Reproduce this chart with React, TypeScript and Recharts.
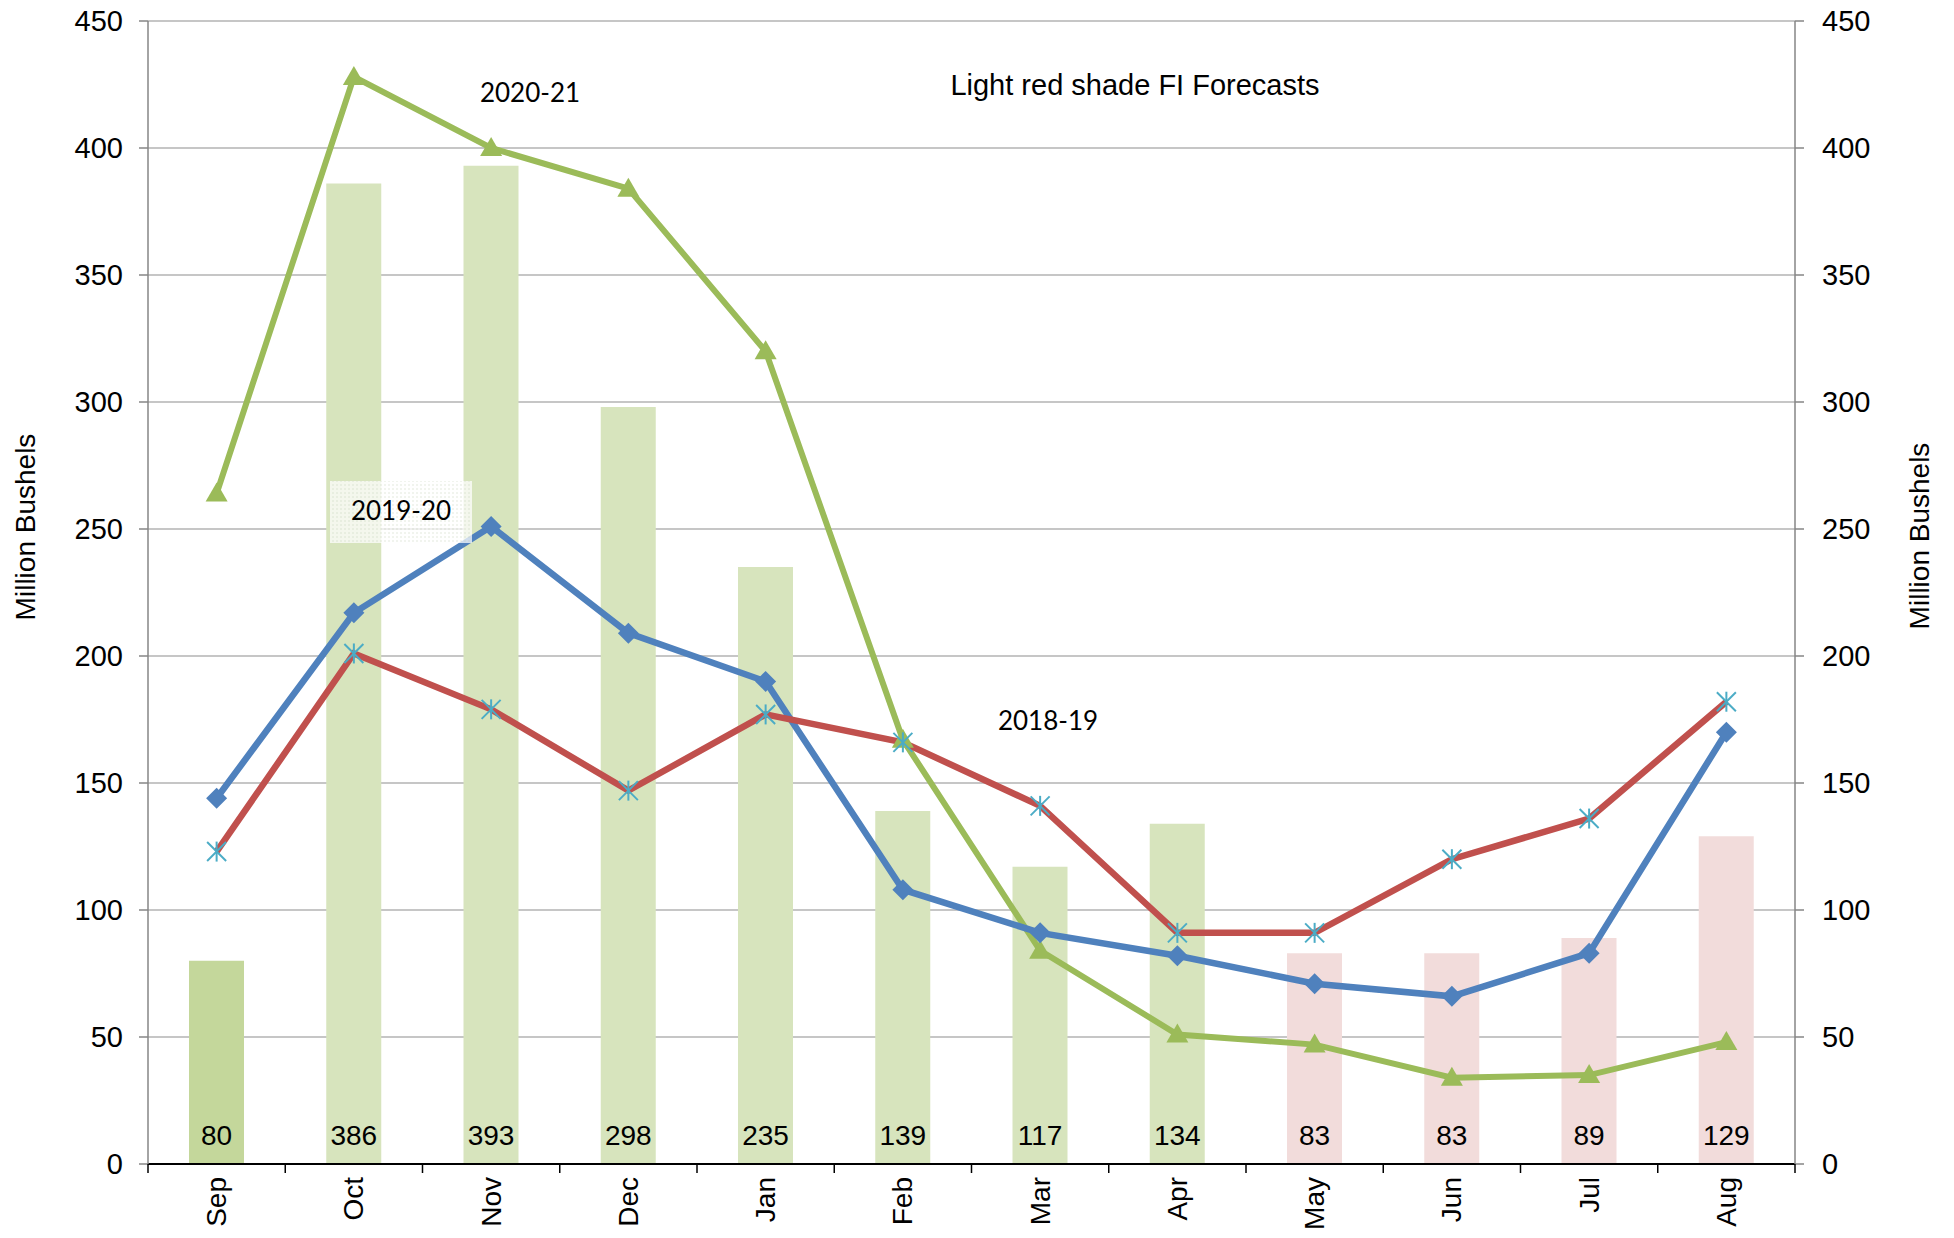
import React from 'react';
import { ComposedChart, Bar, Line, XAxis, YAxis, CartesianGrid, Cell, LabelList } from 'recharts';

const months = ['Sep', 'Oct', 'Nov', 'Dec', 'Jan', 'Feb', 'Mar', 'Apr', 'May', 'Jun', 'Jul', 'Aug'];
// bars: stocks, FI forecasts from May on
const stocks = [80, 386, 393, 298, 235, 139, 117, 134, 83, 83, 89, 129];
const isForecast = [false, false, false, false, false, false, false, false, true, true, true, true];
const y2020_21 = [264, 428, 400, 384, 320, 167, 84, 51, 47, 34, 35, 48];
const y2019_20 = [144, 217, 251, 209, 190, 108, 91, 82, 71, 66, 83, 170];
const y2018_19 = [123, 201, 179, 147, 177, 166, 141, 91, 91, 120, 136, 182];
const yTicks = [0, 50, 100, 150, 200, 250, 300, 350, 400, 450];

const data = months.map((m, i) => ({
  month: m,
  stocks: stocks[i],
  a: y2020_21[i],
  b: y2019_20[i],
  c: y2018_19[i],
}));

const W = 1954;
const H = 1238;
const PLOT_LEFT = 148;
const PLOT_RIGHT = 1795;
const SLOT = (PLOT_RIGHT - PLOT_LEFT) / months.length;
const FONT = '"Liberation Sans", Arial, sans-serif';
const NOTE_FONT = 'Lato, "Open Sans", sans-serif';

const MonthTick = ({ x, y, payload, index }: any) => (
  <g>
    <line x1={x - SLOT / 2} x2={x - SLOT / 2} y1={y - 13} y2={y - 4} stroke="#000" strokeWidth={1.5} />
    {index === months.length - 1 && (
      <line x1={x + SLOT / 2} x2={x + SLOT / 2} y1={y - 13} y2={y - 4} stroke="#000" strokeWidth={1.5} />
    )}
    <text
      x={x}
      y={y}
      transform={`rotate(-90, ${x}, ${y})`}
      textAnchor="end"
      dominantBaseline="central"
      fontSize={28}
      fontFamily={FONT}
      fill="#000"
    >
      {payload.value}
    </text>
  </g>
);

const BarValue = (props: any) => {
  const { x, y, width, height, value } = props;
  return (
    <text
      x={Number(x) + Number(width) / 2}
      y={Number(y) + Number(height) - 29}
      textAnchor="middle"
      dominantBaseline="central"
      fontSize={28}
      fontFamily={FONT}
      fill="#000"
    >
      {value}
    </text>
  );
};

const Triangle = ({ cx, cy }: any) =>
  cx == null ? null : (
    <path d={`M${cx},${cy - 11} L${cx + 11},${cy + 8} L${cx - 11},${cy + 8} Z`} fill="#9bbb59" />
  );

const Diamond = ({ cx, cy }: any) =>
  cx == null ? null : (
    <path d={`M${cx},${cy - 10.5} L${cx + 10.5},${cy} L${cx},${cy + 10.5} L${cx - 10.5},${cy} Z`} fill="#4f81bd" />
  );

const Star = ({ cx, cy }: any) =>
  cx == null ? null : (
    <g stroke="#4bacc6" strokeWidth={2}>
      <line x1={cx} y1={cy - 10} x2={cx} y2={cy + 10} />
      <line x1={cx - 9.5} y1={cy - 9.5} x2={cx + 9.5} y2={cy + 9.5} />
      <line x1={cx + 9.5} y1={cy - 9.5} x2={cx - 9.5} y2={cy + 9.5} />
    </g>
  );

const barColor = (i: number) => {
  if (i === 0) return '#c4d79b';
  return isForecast[i] ? '#f2dcdb' : '#d7e4bd';
};

const App: React.FC = () => {
  return (
    <div style={{ position: 'absolute', left: 0, top: 0, width: W, height: H, background: '#fff' }}>
      <ComposedChart width={W} height={H} data={data} margin={{ top: 21, right: 0, bottom: 0, left: 0 }}>
        <CartesianGrid vertical={false} stroke="#b3b3b3" strokeWidth={1.5} />
        <XAxis
          dataKey="month"
          height={74}
          interval={0}
          tickLine={false}
          tickSize={0}
          tickMargin={13}
          axisLine={{ stroke: '#000', strokeWidth: 2 }}
          tick={<MonthTick />}
        />
        <YAxis
          width={148}
          domain={[0, 450]}
          ticks={yTicks}
          allowDataOverflow
          tickSize={9}
          tickMargin={16}
          axisLine={{ stroke: '#868686', strokeWidth: 1.5 }}
          tickLine={{ stroke: '#868686', strokeWidth: 1.5 }}
          tick={{ fontSize: 29, fill: '#000', fontFamily: FONT }}
        />
        <YAxis
          yAxisId="right"
          orientation="right"
          width={159}
          domain={[0, 450]}
          ticks={yTicks}
          allowDataOverflow
          tickSize={9}
          tickMargin={18}
          axisLine={{ stroke: '#868686', strokeWidth: 1.5 }}
          tickLine={{ stroke: '#868686', strokeWidth: 1.5 }}
          tick={{ fontSize: 29, fill: '#000', fontFamily: FONT }}
        />
        <Bar dataKey="stocks" barSize={55} isAnimationActive={false}>
          {data.map((d, i) => (
            <Cell key={d.month} fill={barColor(i)} />
          ))}
          <LabelList dataKey="stocks" content={BarValue} />
        </Bar>
        <Line
          type="linear"
          dataKey="a"
          stroke="#9bbb59"
          strokeWidth={6}
          dot={(p: any) => <Triangle key={p.index} {...p} />}
          activeDot={false}
          isAnimationActive={false}
        />
        <Line
          type="linear"
          dataKey="b"
          stroke="#4f81bd"
          strokeWidth={6.5}
          dot={(p: any) => <Diamond key={p.index} {...p} />}
          activeDot={false}
          isAnimationActive={false}
        />
        <Line
          yAxisId="right"
          type="linear"
          dataKey="c"
          stroke="#c0504d"
          strokeWidth={6.5}
          dot={(p: any) => <Star key={p.index} {...p} />}
          activeDot={false}
          isAnimationActive={false}
        />
      </ComposedChart>
      <svg
        width={W}
        height={H}
        style={{ position: 'absolute', left: 0, top: 0, pointerEvents: 'none' }}
      >
        <defs>
          <pattern id="dots" width={4} height={4} patternUnits="userSpaceOnUse">
            <rect width={4} height={4} fill="rgba(255,255,255,0.72)" />
            <circle cx={1} cy={1} r={0.7} fill="rgba(190,200,175,0.6)" />
          </pattern>
        </defs>
        <text
          x={25}
          y={527}
          transform="rotate(-90, 25, 527)"
          textAnchor="middle"
          dominantBaseline="central"
          fontSize={28}
          fontFamily={FONT}
        >
          Million Bushels
        </text>
        <text
          x={1919}
          y={536}
          transform="rotate(-90, 1919, 536)"
          textAnchor="middle"
          dominantBaseline="central"
          fontSize={28}
          fontFamily={FONT}
        >
          Million Bushels
        </text>
        <text x={1135} y={85} textAnchor="middle" dominantBaseline="central" fontSize={29} fontFamily={FONT}>
          Light red shade FI Forecasts
        </text>
        <text x={530} y={92} textAnchor="middle" dominantBaseline="central" fontSize={26} fontFamily={NOTE_FONT}>
          2020-21
        </text>
        <rect x={330} y={481} width={142} height={62} fill="url(#dots)" />
        <text x={401} y={510} textAnchor="middle" dominantBaseline="central" fontSize={26} fontFamily={NOTE_FONT}>
          2019-20
        </text>
        <text x={1048} y={720} textAnchor="middle" dominantBaseline="central" fontSize={26} fontFamily={NOTE_FONT}>
          2018-19
        </text>
      </svg>
    </div>
  );
};

export default App;
